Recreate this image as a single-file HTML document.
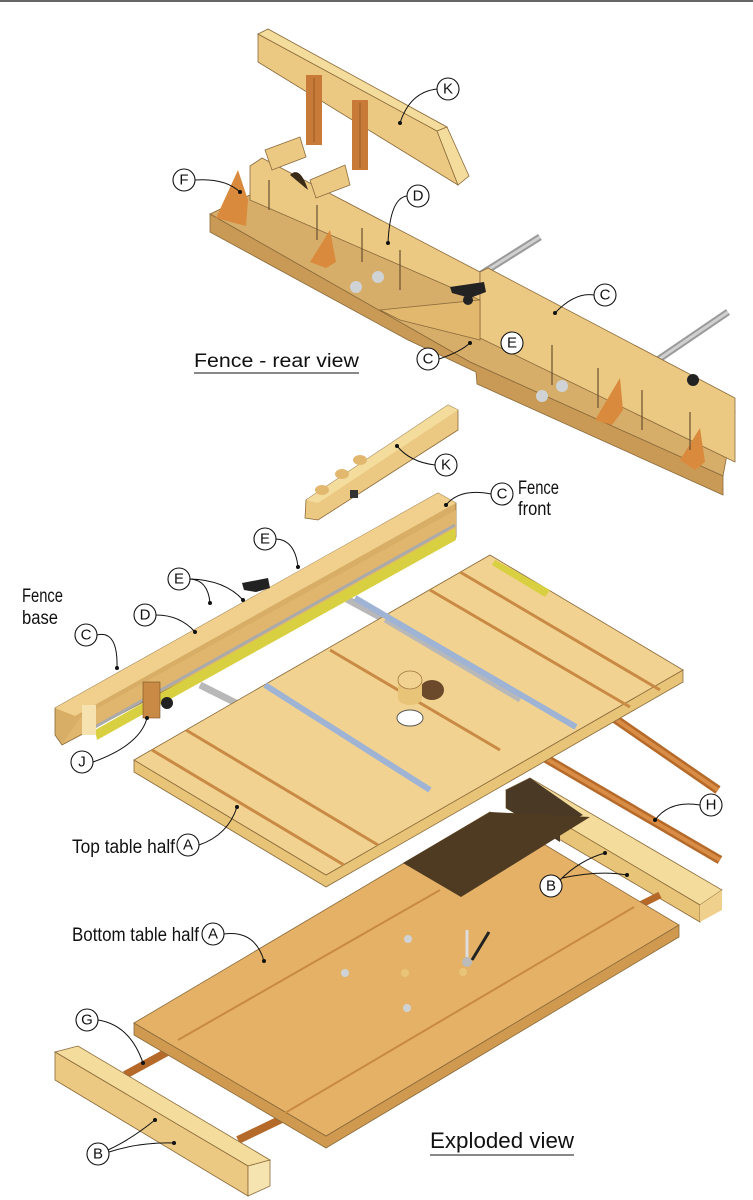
<!DOCTYPE html>
<html><head><meta charset="utf-8"><style>
html,body{margin:0;padding:0;background:#fff;}
svg{display:block;}
text{font-family:"Liberation Sans",sans-serif;fill:#111;}
.lb{font-size:15px;text-anchor:middle;dominant-baseline:central;}
.t{font-size:19px;}
.c{fill:#fff;stroke:#111;stroke-width:1.1;}
.ld{fill:none;stroke:#111;stroke-width:1;}
.o{stroke:#8a6a3a;stroke-width:0.8;}
</style></head><body>
<svg width="753" height="1200" viewBox="0 0 753 1200" xmlns="http://www.w3.org/2000/svg">
<rect x="0" y="0" width="753" height="1200" fill="#fff"/>
<line x1="0" y1="1" x2="753" y2="1" stroke="#333" stroke-width="1.5"/>

<!-- ===== Fence rear view ===== -->
<line x1="440" y1="300" x2="540" y2="237" stroke="#9a9a9a" stroke-width="7"/>
<line x1="440" y1="300" x2="540" y2="237" stroke="#d0d0d0" stroke-width="3"/>
<line x1="640" y1="372" x2="728" y2="312" stroke="#9a9a9a" stroke-width="7"/>
<line x1="640" y1="372" x2="728" y2="312" stroke="#d0d0d0" stroke-width="3"/>
<polygon class="o" points="210,214 252,194 735,412 723,476 470,362" fill="#d7ad6a"/>
<polygon class="o" points="210,214 470,362 723,476 723,495 477,384 476,372 408,340 210,232" fill="#c99a55"/>
<polygon class="o" points="250,200 250,166 262,158 480,272 480,300" fill="#ecc983"/>
<polygon class="o" points="480,272 488,268 735,398 735,462 480,338" fill="#ecc983"/>
<polygon class="o" points="380,310 480,300 480,340 400,320" fill="#e2b86f"/>
<polygon points="216,218 238,170 248,200 246,226" fill="#d98a3c"/>
<polygon points="310,262 330,230 336,262 326,268" fill="#d98a3c"/>
<polygon points="595,420 620,378 623,410 612,425" fill="#d98a3c"/>
<polygon points="680,460 700,428 705,462 695,470" fill="#d98a3c"/>
<g stroke="#6a5030" stroke-width="1.2">
<line x1="269" y1="180" x2="269" y2="210"/><line x1="317" y1="205" x2="317" y2="240"/>
<line x1="362" y1="228" x2="362" y2="262"/><line x1="400" y1="250" x2="400" y2="290"/>
<line x1="552" y1="345" x2="552" y2="385"/><line x1="598" y1="368" x2="598" y2="408"/>
<line x1="642" y1="390" x2="642" y2="430"/><line x1="690" y1="412" x2="690" y2="450"/>
</g>
<circle cx="356" cy="287" r="6" fill="#cfd3d6"/><circle cx="378" cy="277" r="6" fill="#cfd3d6"/>
<circle cx="542" cy="396" r="6" fill="#cfd3d6"/><circle cx="562" cy="386" r="6" fill="#cfd3d6"/>
<path d="M450,287 L484,282 L486,292 L470,298 L452,293Z" fill="#222"/>
<circle cx="468" cy="300" r="5" fill="#222"/>
<circle cx="693" cy="380" r="6" fill="#222"/>
<!-- top K board -->
<polygon class="o" points="258,34 437,131 458,185 258,62" fill="#ecc983"/>
<polygon class="o" points="258,34 268,29 447,127 437,131" fill="#f4dc9c"/>
<polygon class="o" points="437,131 447,127 469,176 458,185" fill="#f4dc9c"/>
<rect x="306" y="75" width="16" height="70" fill="#c87a38"/>
<rect x="352" y="100" width="16" height="70" fill="#c87a38"/>
<line x1="314" y1="78" x2="314" y2="142" stroke="#9a5a25"/>
<line x1="360" y1="103" x2="360" y2="168" stroke="#9a5a25"/>
<!-- rollers -->
<polygon points="265,150 300,137 306,157 272,170" fill="#ecc983" class="o"/>
<polygon points="310,180 345,165 350,185 316,198" fill="#ecc983" class="o"/>
<path d="M290,175 Q300,165 308,190 Z" fill="#3a2a18"/>

<circle class="c" cx="448" cy="89" r="11"/><text class="lb" x="448" y="89">K</text>
<path class="ld" d="M437,89 Q410,92 400,123"/><circle cx="400" cy="123" r="2" fill="#111"/>
<circle class="c" cx="184" cy="180" r="11"/><text class="lb" x="184" y="180">F</text>
<path class="ld" d="M195,180 Q225,178 240,192"/><circle cx="240" cy="192" r="2" fill="#111"/>
<circle class="c" cx="418" cy="196" r="11"/><text class="lb" x="418" y="196">D</text>
<path class="ld" d="M407,196 Q390,198 388,243"/><circle cx="388" cy="243" r="2" fill="#111"/>
<circle class="c" cx="605" cy="295" r="11"/><text class="lb" x="605" y="295">C</text>
<path class="ld" d="M594,295 Q575,292 555,313"/><circle cx="555" cy="313" r="2" fill="#111"/>
<circle class="c" cx="512" cy="343" r="11"/><text class="lb" x="512" y="343">E</text>
<circle class="c" cx="428" cy="359" r="11"/><text class="lb" x="428" y="359">C</text>
<path class="ld" d="M439,359 Q460,352 470,343"/><circle cx="470" cy="343" r="2" fill="#111"/>
<text class="t" x="194" y="367" textLength="165" lengthAdjust="spacingAndGlyphs">Fence - rear view</text>
<line x1="194" y1="373" x2="359" y2="373" stroke="#111" stroke-width="1"/>

<!-- ===== middle K ===== -->
<polygon class="o" points="306,500 448,405 458,410 458,430 318,520 305,518" fill="#ecc983"/>
<polygon points="306,500 448,405 458,410 318,503" fill="#f4dc9c"/>
<ellipse cx="322" cy="490" rx="7" ry="5" fill="#e2b86f"/>
<ellipse cx="342" cy="474" rx="7" ry="5" fill="#e2b86f"/>
<ellipse cx="360" cy="460" rx="7" ry="5" fill="#e2b86f"/>
<rect x="350" y="490" width="8" height="8" fill="#333"/>
<circle class="c" cx="446" cy="465" r="11"/><text class="lb" x="446" y="465">K</text>
<path class="ld" d="M435,465 Q410,462 397,446"/><circle cx="397" cy="446" r="2" fill="#111"/>

<!-- ===== Top table half ===== -->
<line x1="200" y1="685" x2="310" y2="740" stroke="#b8b8b8" stroke-width="7"/>
<line x1="345" y1="598" x2="450" y2="655" stroke="#b8b8b8" stroke-width="7"/>
<line x1="595" y1="705" x2="718" y2="790" stroke="#b56a2a" stroke-width="9"/>
<line x1="595" y1="705" x2="718" y2="790" stroke="#d88c45" stroke-width="4"/>
<line x1="540" y1="755" x2="720" y2="860" stroke="#b56a2a" stroke-width="9"/>
<line x1="540" y1="755" x2="720" y2="860" stroke="#d88c45" stroke-width="4"/>
<polygon points="134,760 326,875 683,670 683,682 326,887 134,772" fill="#e8c479" class="o"/>
<polygon points="134,760 490,555 683,670 326,875" fill="#f2d290" class="o"/>
<g stroke-width="3">
<line x1="152" y1="750" x2="344" y2="865" stroke="#c98a45"/>
<line x1="186" y1="730" x2="378" y2="845" stroke="#c98a45"/>
<line x1="265" y1="685" x2="430" y2="790" stroke="#9fb4d4" stroke-width="6"/>
<line x1="330" y1="650" x2="500" y2="750" stroke="#c98a45"/>
<line x1="385" y1="620" x2="520" y2="700" stroke="#b8b8b8" stroke-width="5"/>
<line x1="355" y1="598" x2="576" y2="727" stroke="#9fb4d4" stroke-width="6"/>
<line x1="430" y1="590" x2="630" y2="707" stroke="#c98a45"/>
<line x1="460" y1="572" x2="660" y2="690" stroke="#c98a45"/>
</g>
<polygon points="495,560 550,590 545,597 492,565" fill="#d8d040"/>
<ellipse cx="410" cy="718" rx="13" ry="8" fill="#fff" stroke="#555"/>
<ellipse cx="432" cy="690" rx="12" ry="10" fill="#6a4a2a"/>
<rect x="398" y="680" width="24" height="18" fill="#e8c479"/>
<ellipse cx="410" cy="680" rx="12" ry="9" fill="#f2d290" stroke="#a07a40" stroke-width="0.8"/>
<ellipse cx="410" cy="698" rx="12" ry="7" fill="#e8c479"/>

<!-- ===== Fence front bar ===== -->
<polygon class="o" points="55,708 438,493 456,503 456,537 62,745 55,735" fill="#d8ae66"/>
<polygon points="55,708 438,493 456,503 75,716" fill="#f0d08c"/>
<polygon points="80,718 456,510 456,536 62,744" fill="#e0b66e"/>
<polygon points="95,730 455,528 456,540 97,740" fill="#d8d040"/>
<line x1="95" y1="727" x2="455" y2="525" stroke="#aaa" stroke-width="3"/>
<rect x="82" y="705" width="14" height="30" fill="#f6e2ae"/>
<rect x="143" y="682" width="17" height="36" fill="#c98a45" stroke="#7a5020" stroke-width="0.6"/>
<circle cx="167" cy="703" r="6" fill="#222"/>
<path d="M242,583 L268,578 L270,588 L256,592 L244,590Z" fill="#222"/>

<circle class="c" cx="502" cy="494" r="11"/><text class="lb" x="502" y="494">C</text>
<path class="ld" d="M491,494 Q460,488 446,505"/><circle cx="446" cy="505" r="2" fill="#111"/>
<text class="t" x="518" y="494" textLength="41" lengthAdjust="spacingAndGlyphs">Fence</text>
<text class="t" x="518" y="515" textLength="33" lengthAdjust="spacingAndGlyphs">front</text>
<circle class="c" cx="265" cy="539" r="11"/><text class="lb" x="265" y="539">E</text>
<path class="ld" d="M276,539 Q295,540 298,567"/><circle cx="298" cy="567" r="2" fill="#111"/>
<circle class="c" cx="179" cy="579" r="11"/><text class="lb" x="179" y="579">E</text>
<path class="ld" d="M190,579 Q208,580 210,603 M190,579 Q225,580 243,600"/><circle cx="210" cy="603" r="2" fill="#111"/><circle cx="243" cy="600" r="2" fill="#111"/>
<circle class="c" cx="145" cy="615" r="11"/><text class="lb" x="145" y="615">D</text>
<path class="ld" d="M156,615 Q180,615 195,632"/><circle cx="195" cy="632" r="2" fill="#111"/>
<text class="t" x="22" y="602" textLength="41" lengthAdjust="spacingAndGlyphs">Fence</text>
<text class="t" x="22" y="624" textLength="36" lengthAdjust="spacingAndGlyphs">base</text>
<circle class="c" cx="86" cy="635" r="11"/><text class="lb" x="86" y="635">C</text>
<path class="ld" d="M97,635 Q118,630 117,668"/><circle cx="117" cy="668" r="2" fill="#111"/>
<circle class="c" cx="82" cy="762" r="11"/><text class="lb" x="82" y="762">J</text>
<path class="ld" d="M93,762 Q140,745 147,718"/><circle cx="147" cy="718" r="2" fill="#111"/>

<!-- ===== Bottom table half ===== -->
<polygon points="506,790 530,778 722,890 700,905" fill="#f4dc9c" class="o"/>
<polygon points="506,790 700,905 700,922 506,808" fill="#e8c479" class="o"/>
<polygon points="700,905 722,890 722,910 700,922" fill="#efd08c"/>
<polygon points="506,790 530,778 583,815 560,825 560,842 506,808" fill="#4a3a25"/>
<line x1="125" y1="1075" x2="180" y2="1045" stroke="#b56a2a" stroke-width="8"/>
<line x1="238" y1="1140" x2="290" y2="1115" stroke="#b56a2a" stroke-width="8"/>
<line x1="620" y1="915" x2="660" y2="895" stroke="#b56a2a" stroke-width="7"/>
<polygon points="134,1023 326,1136 679,925 679,937 326,1148 134,1035" fill="#cf9a50" class="o"/>
<polygon points="134,1023 490,812 679,925 326,1136" fill="#e4b166" class="o"/>
<polygon points="403,863 490,812 590,817 461,897" fill="#4f3a22"/>
<line x1="178" y1="1040" x2="440" y2="890" stroke="#c88a40" stroke-width="2"/>
<line x1="285" y1="1113" x2="634" y2="907" stroke="#c88a40" stroke-width="2"/>
<g fill="#cfd3d6"><circle cx="408" cy="939" r="4"/><circle cx="345" cy="973" r="4"/><circle cx="407" cy="1008" r="4"/><circle cx="405" cy="973" r="4" fill="#e8c479"/><circle cx="463" cy="972" r="4" fill="#e8c479"/></g>
<line x1="467" y1="930" x2="467" y2="960" stroke="#ddd" stroke-width="3"/>
<circle cx="467" cy="962" r="5" fill="#bbb"/>
<line x1="472" y1="960" x2="489" y2="932" stroke="#222" stroke-width="3"/>
<polygon points="55,1052 78,1046 270,1160 248,1166" fill="#f4dc9c" class="o"/>
<polygon points="55,1052 248,1166 248,1196 55,1080" fill="#ecc983" class="o"/>
<polygon points="248,1166 270,1160 270,1186 248,1196" fill="#f6e4b0" class="o"/>

<text class="t" x="72" y="853" textLength="103" lengthAdjust="spacingAndGlyphs">Top table half</text>
<circle class="c" cx="188" cy="845" r="11"/><text class="lb" x="188" y="845">A</text>
<path class="ld" d="M199,845 Q228,835 237,807"/><circle cx="237" cy="807" r="2" fill="#111"/>
<circle class="c" cx="711" cy="805" r="11"/><text class="lb" x="711" y="805">H</text>
<path class="ld" d="M700,805 Q670,800 655,820"/><circle cx="655" cy="820" r="2" fill="#111"/>
<circle class="c" cx="551" cy="886" r="11"/><text class="lb" x="551" y="886">B</text>
<path class="ld" d="M560,880 Q580,860 605,853 M562,878 Q600,870 627,875"/><circle cx="605" cy="853" r="2" fill="#111"/><circle cx="627" cy="875" r="2" fill="#111"/>
<text class="t" x="72" y="941" textLength="127" lengthAdjust="spacingAndGlyphs">Bottom table half</text>
<circle class="c" cx="213" cy="934" r="11"/><text class="lb" x="213" y="934">A</text>
<path class="ld" d="M224,934 Q255,930 264,961"/><circle cx="264" cy="961" r="2" fill="#111"/>
<circle class="c" cx="87" cy="1020" r="11"/><text class="lb" x="87" y="1020">G</text>
<path class="ld" d="M98,1020 Q130,1025 143,1063"/><circle cx="143" cy="1063" r="2" fill="#111"/>
<circle class="c" cx="98" cy="1154" r="11"/><text class="lb" x="98" y="1154">B</text>
<path class="ld" d="M108,1150 Q130,1140 155,1120 M109,1152 Q140,1142 174,1143"/><circle cx="155" cy="1120" r="2" fill="#111"/><circle cx="174" cy="1143" r="2" fill="#111"/>
<text class="t" x="430" y="1148" style="font-size:22px" textLength="144" lengthAdjust="spacingAndGlyphs">Exploded view</text>
<line x1="430" y1="1155" x2="574" y2="1155" stroke="#111" stroke-width="1"/>
</svg>
</body></html>
